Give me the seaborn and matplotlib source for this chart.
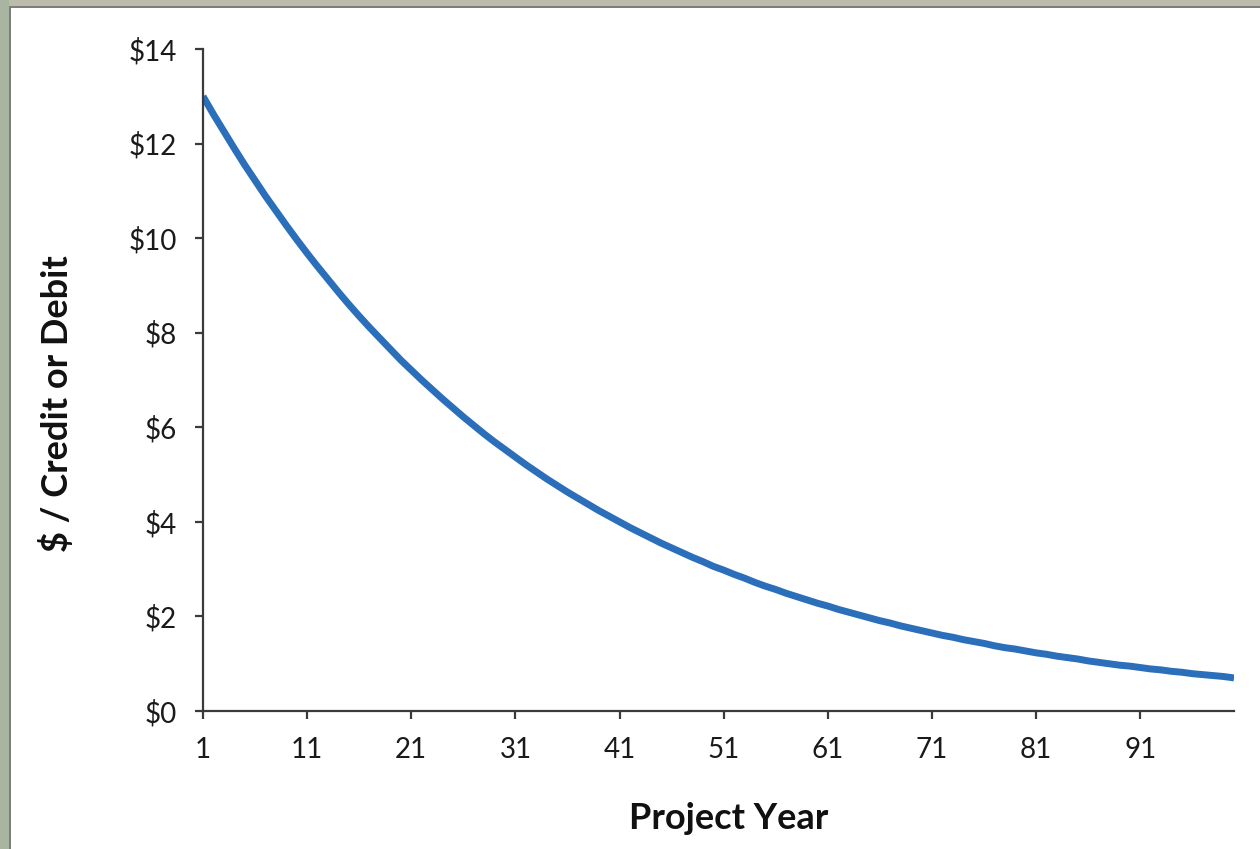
import numpy as np
import pandas as pd
import seaborn as sns
import matplotlib.pyplot as plt
from matplotlib.patches import Rectangle

# Data
project_year = list(range(1, 101))
price_per_credit = [
    13.00, 12.62, 12.26, 11.90, 11.55, 11.22, 10.89, 10.58, 10.27, 9.97,
    9.68, 9.40, 9.13, 8.86, 8.60, 8.35, 8.11, 7.88, 7.65, 7.42,
    7.21, 7.00, 6.80, 6.60, 6.41, 6.22, 6.04, 5.86, 5.69, 5.53,
    5.37, 5.21, 5.06, 4.91, 4.77, 4.63, 4.50, 4.37, 4.24, 4.12,
    4.00, 3.88, 3.77, 3.66, 3.55, 3.45, 3.35, 3.25, 3.16, 3.06,
    2.98, 2.89, 2.81, 2.72, 2.64, 2.57, 2.49, 2.42, 2.35, 2.28,
    2.22, 2.15, 2.09, 2.03, 1.97, 1.91, 1.86, 1.80, 1.75, 1.70,
    1.65, 1.60, 1.56, 1.51, 1.47, 1.43, 1.38, 1.34, 1.31, 1.27,
    1.23, 1.20, 1.16, 1.13, 1.10, 1.06, 1.03, 1.00, 0.97, 0.95,
    0.92, 0.89, 0.87, 0.84, 0.82, 0.79, 0.77, 0.75, 0.73, 0.70,
]
x_ticks = [1, 11, 21, 31, 41, 51, 61, 71, 81, 91]
y_ticks = [0, 2, 4, 6, 8, 10, 12, 14]
y_tick_labels = ["$0", "$2", "$4", "$6", "$8", "$10", "$12", "$14"]
x_label = "Project Year"
y_label = "$ / Credit or Debit"

sns.set_theme(style="ticks")
plt.rcParams["font.family"] = ["Lato", "DejaVu Sans"]

df = pd.DataFrame({"year": project_year, "price": price_per_credit})

fig = plt.figure(figsize=(12.6, 8.49), dpi=100, facecolor="white")
ax = fig.add_axes([0.1611, 0.1625, 0.8183, 0.7798])

sns.lineplot(data=df, x="year", y="price", ax=ax, color="#2b6fba",
             linewidth=5, solid_capstyle="butt")

ax.set_xlim(1, 100)
ax.set_ylim(0, 14)
ax.set_xticks(x_ticks)
ax.set_xticklabels([str(t) for t in x_ticks])
ax.set_yticks(y_ticks)
ax.set_yticklabels(y_tick_labels)

for side in ["top", "right"]:
    ax.spines[side].set_visible(False)
for side in ["left", "bottom"]:
    ax.spines[side].set_color("#3a3a3a")
    ax.spines[side].set_linewidth(1.6)

ax.tick_params(axis="both", direction="out", length=6, width=1.6,
               color="#3a3a3a", labelsize=20, labelcolor="#1a1a1a", pad=13)

ax.set_xlabel(x_label, fontsize=26, fontweight="bold", color="#111111")
ax.set_ylabel(y_label, fontsize=26, fontweight="bold", color="#111111")
ax.xaxis.set_label_coords(0.51, -0.138)
ax.yaxis.set_label_coords(-0.125, 0.465)

# slide background border (top and left strips)
fig.add_artist(Rectangle((0, 1 - 6 / 849), 1, 6 / 849, transform=fig.transFigure,
                         facecolor="#bdbcab", edgecolor="none", zorder=0))
fig.add_artist(Rectangle((0, 1 - 8 / 849), 1, 2 / 849, transform=fig.transFigure,
                         facecolor="#7d7d7d", edgecolor="none", zorder=0))
fig.add_artist(Rectangle((0, 0), 9 / 1260, 1, transform=fig.transFigure,
                         facecolor="#a9b5a0", edgecolor="none", zorder=0))
fig.add_artist(Rectangle((9 / 1260, 0), 2 / 1260, 1 - 6 / 849, transform=fig.transFigure,
                         facecolor="#7d7d7d", edgecolor="none", zorder=0))

fig.savefig("out.png", dpi=100, facecolor="white")
